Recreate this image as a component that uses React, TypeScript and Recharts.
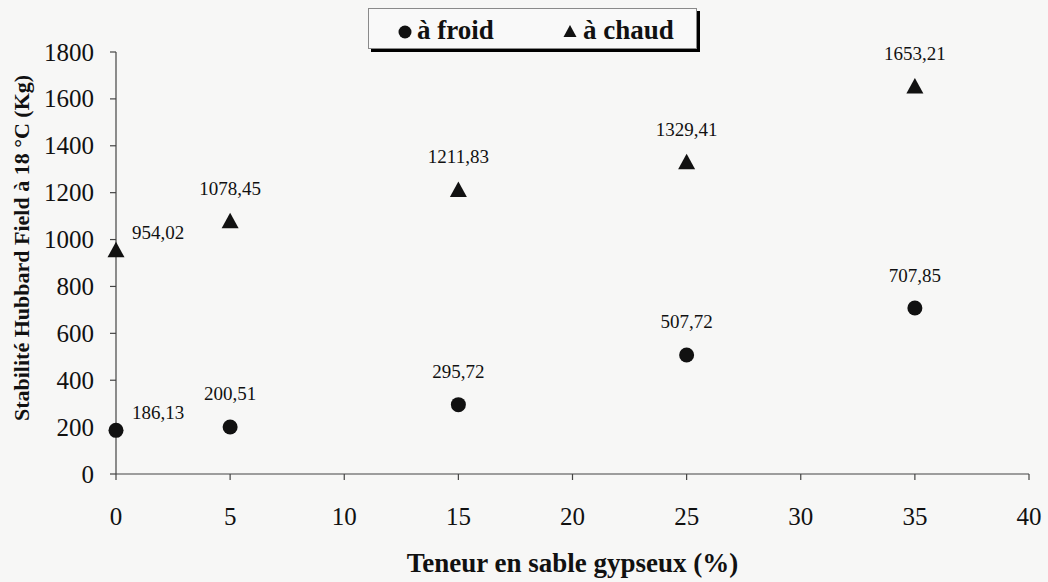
import React from 'react';
import { ScatterChart, Scatter, XAxis, YAxis, Legend, LabelList, Label } from 'recharts';

// Sand content (%) tested for each mix
const sandContent = [0, 5, 15, 25, 35];
// Hubbard Field stability at 18 °C (kg), cold-mixed
const coldStability = [186.13, 200.51, 295.72, 507.72, 707.85];
// Hubbard Field stability at 18 °C (kg), hot-mixed
const hotStability = [954.02, 1078.45, 1211.83, 1329.41, 1653.21];

const xTicks = [0, 5, 10, 15, 20, 25, 30, 35, 40];
const yTicks = [0, 200, 400, 600, 800, 1000, 1200, 1400, 1600, 1800];
const seriesNames = ['à froid', 'à chaud'];
const xTitle = 'Teneur en sable gypseux (%)';
const yTitle = 'Stabilité Hubbard Field à 18 °C (Kg)';

const coldData = sandContent.map((x, i) => ({ x, y: coldStability[i] }));
const hotData = sandContent.map((x, i) => ({ x, y: hotStability[i] }));

const SERIF = '"Liberation Serif", "Times New Roman", serif';
const INK = '#111';

const formatFr = (v: number) => v.toFixed(2).replace('.', ',');

const XTick = (props: any) => {
  const { x, y, payload } = props;
  return (
    <text
      x={x}
      y={y}
      dy={18}
      textAnchor="middle"
      style={{ fontFamily: SERIF, fontSize: 25, fill: INK }}
    >
      {payload.value}
    </text>
  );
};

const YTick = (props: any) => {
  const { x, y, payload } = props;
  return (
    <text
      x={x}
      y={y}
      dy={8.5}
      textAnchor="end"
      style={{ fontFamily: SERIF, fontSize: 25, fill: INK }}
    >
      {payload.value}
    </text>
  );
};

const CircleMark = (props: any) => {
  const { cx, cy } = props;
  return <circle cx={cx} cy={cy} r={7.5} fill={INK} />;
};

const TriangleMark = (props: any) => {
  const { cx, cy } = props;
  return (
    <polygon
      points={`${cx},${cy - 8.5} ${cx - 8.5},${cy + 7} ${cx + 8.5},${cy + 7}`}
      fill={INK}
    />
  );
};

// Value labels sit above each marker; markers on the y axis get their label to the right
const ValueLabel = (props: any) => {
  const { x, y, width, height, value, index } = props;
  const cx = x + width / 2;
  const cy = y + height / 2;
  const onAxis = sandContent[index] === 0;
  const tx = onAxis ? cx + 42 : cx;
  const ty = onAxis ? cy - 18 : cy - 33;
  return (
    <text
      x={tx}
      y={ty}
      dy="0.34em"
      textAnchor="middle"
      style={{ fontFamily: SERIF, fontSize: 19, fill: INK }}
    >
      {formatFr(Number(value))}
    </text>
  );
};

const legendText = { fontFamily: SERIF, fontWeight: 'bold' as const, fontSize: 27, fill: INK };

const LegendBox = () => (
  <div
    style={{
      boxSizing: 'border-box',
      width: 329,
      height: 41,
      border: '1px solid #8a8a8a',
      boxShadow: '3px 3px 0 #000',
      background: '#f9f9f9',
    }}
  >
    <svg width={327} height={39} style={{ display: 'block' }}>
      <circle cx={36} cy={23} r={6.5} fill={INK} />
      <text x={48} y={30} style={legendText}>
        {seriesNames[0]}
      </text>
      <polygon points="201,16 194.5,28 207.5,28" fill={INK} />
      <text x={214} y={30} style={legendText}>
        {seriesNames[1]}
      </text>
    </svg>
  </div>
);

const YTitle = (props: any) => {
  const { viewBox } = props;
  const cy = viewBox.y + viewBox.height / 2 - 15;
  const cx = 22;
  return (
    <text
      x={cx}
      y={cy}
      dy="0.33em"
      transform={`rotate(-90, ${cx}, ${cy})`}
      textAnchor="middle"
      style={{ fontFamily: SERIF, fontWeight: 'bold', fontSize: 22, fill: INK }}
    >
      {yTitle}
    </text>
  );
};

export default function App() {
  return (
    <div
      style={{
        position: 'absolute',
        left: 0,
        top: 0,
        width: 1048,
        height: 582,
        background: '#f7f7f6',
        fontFamily: SERIF,
      }}
    >
      <ScatterChart width={1048} height={582} margin={{ top: 52, right: 19, bottom: 0, left: 0 }}>
        <XAxis
          type="number"
          dataKey="x"
          domain={[0, 40]}
          ticks={xTicks}
          height={108}
          tickSize={6}
          tickMargin={27}
          axisLine={{ stroke: '#444', strokeWidth: 1.2 }}
          tickLine={{ stroke: '#444', strokeWidth: 1.2 }}
          tick={<XTick />}
        >
          <Label
            value={xTitle}
            position="insideBottom"
            offset={10}
            style={{ fontFamily: SERIF, fontWeight: 'bold', fontSize: 27, fill: INK }}
          />
        </XAxis>
        <YAxis
          type="number"
          dataKey="y"
          domain={[0, 1800]}
          ticks={yTicks}
          width={116}
          tickSize={6}
          tickMargin={16}
          axisLine={{ stroke: '#444', strokeWidth: 1.2 }}
          tickLine={{ stroke: '#444', strokeWidth: 1.2 }}
          tick={<YTick />}
        >
          <Label content={<YTitle />} />
        </YAxis>
        <Legend
          layout="horizontal"
          verticalAlign="middle"
          wrapperStyle={{ left: 368, top: 8, width: 332, height: 44 }}
          content={<LegendBox />}
        />
        <Scatter
          name={seriesNames[0]}
          data={coldData}
          shape={<CircleMark />}
          isAnimationActive={false}
        >
          <LabelList dataKey="y" content={<ValueLabel />} />
        </Scatter>
        <Scatter
          name={seriesNames[1]}
          data={hotData}
          shape={<TriangleMark />}
          isAnimationActive={false}
        >
          <LabelList dataKey="y" content={<ValueLabel />} />
        </Scatter>
      </ScatterChart>
    </div>
  );
}
